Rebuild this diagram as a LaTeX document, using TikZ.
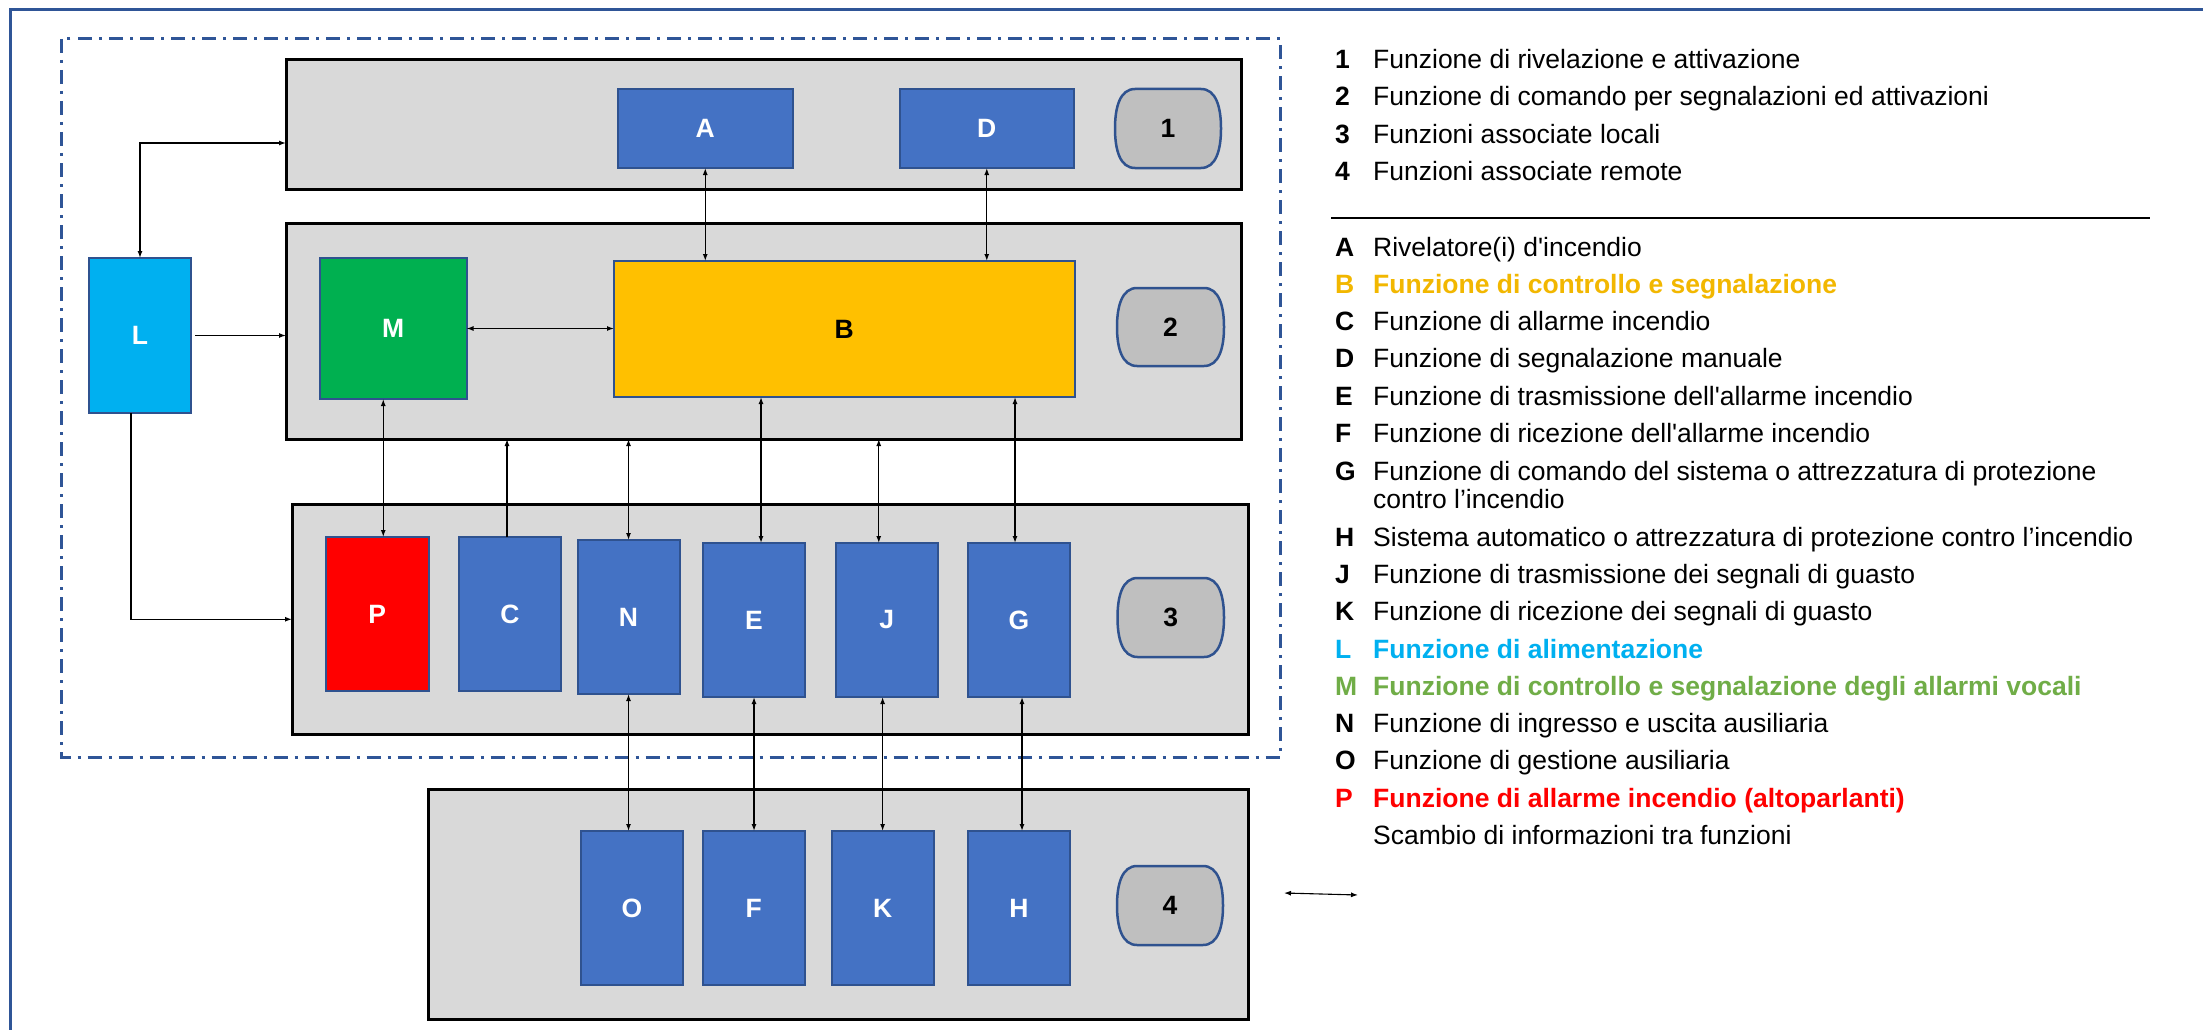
\documentclass[tikz,border=0pt]{standalone}
\usepackage{fontspec}
\setmainfont{Liberation Sans}[Ligatures=TeXOff]
\usetikzlibrary{arrows.meta,calc}
\definecolor{frameblue}{HTML}{2F5597}
\definecolor{boxblue}{HTML}{4472C4}
\definecolor{boxedge}{HTML}{2F528F}
\definecolor{contgray}{HTML}{D9D9D9}
\definecolor{pillgray}{HTML}{BFBFBF}
\definecolor{byellow}{HTML}{FFC000}
\definecolor{mgreen}{HTML}{00B050}
\definecolor{lcyan}{HTML}{00B0F0}
\definecolor{pred}{HTML}{FF0000}
\definecolor{legyellow}{HTML}{F2B700}
\definecolor{legcyan}{HTML}{00B0F0}
\definecolor{leggreen}{HTML}{70AD47}
\newcommand{\pillpath}[1]{%
  \path[draw=boxedge, fill=pillgray, line width=2.5pt]
    let \p1=(#1.north west), \p2=(#1.south east), \n1={(\y1+\y2)/2} in
    (\x1+20pt,\y1) -- (\x2-20pt,\y1)
    .. controls (\x2-5pt,\y1) and (\x2,\y1-18pt) .. (\x2,\n1)
    .. controls (\x2,\y2+18pt) and (\x2-5pt,\y2) .. (\x2-20pt,\y2)
    -- (\x1+20pt,\y2)
    .. controls (\x1+5pt,\y2) and (\x1,\y2+18pt) .. (\x1,\n1)
    .. controls (\x1,\y1-18pt) and (\x1+5pt,\y1) .. (\x1+20pt,\y1) -- cycle;}
\tikzset{
  container/.style={draw=black, fill=contgray, line width=3pt, inner sep=0pt, outer sep=0pt},
  fbox/.style={draw=boxedge, fill=boxblue, line width=2pt, inner sep=0pt, outer sep=0pt,
     text=white, font=\bfseries\fontsize{26.5}{30}\selectfont},
  pillbox/.style={inner sep=0pt, outer sep=0pt, minimum width=106pt, minimum height=79pt},
  pilltext/.style={inner sep=0pt, font=\bfseries\fontsize{26.5}{30}\selectfont},
  arr/.style={-{Latex[length=7pt,width=5pt]}, line width=1.3pt},
  dbl/.style={{Latex[length=7pt,width=5pt]}-{Latex[length=7pt,width=5pt]}, line width=1.3pt},
  legkey/.style={anchor=base west, inner sep=0pt, font=\bfseries\fontsize{26.5}{30}\selectfont},
  legtxt/.style={anchor=base west, inner sep=0pt, font=\fontsize{26.5}{30}\selectfont, align=left},
}
\begin{document}
\begin{tikzpicture}[x=1pt,y=-1pt]
\useasboundingbox (0,0) rectangle (2203,1030);
\fill[white] (0,0) rectangle (2203,1030);
% outer frame (only top and left visible)
\draw[frameblue, line width=3pt] (2203,9.5) -- (10.5,9.5) -- (10.5,1030);
% dash-dot region
\draw[frameblue, line width=3pt, dash pattern=on 14pt off 7pt on 3pt off 7pt]
  (61.5,39) rectangle (1280.5,757);

% containers
\node[container, minimum width=955.5pt, minimum height=129pt] (box1) at (763.75,124.5) {};
\node[container, minimum width=955.5pt, minimum height=216pt] (box2) at (763.75,331) {};
\node[container, minimum width=956.5pt, minimum height=230.5pt] (box3) at (770.25,619.25) {};
\node[container, minimum width=820.5pt, minimum height=230pt] (box4) at (838.25,904) {};

% level 1
\node[fbox, minimum width=174.5pt, minimum height=79pt] (A) at (705.25,128.5) {A};
\node[fbox, minimum width=174.5pt, minimum height=79pt] (D) at (986.75,128.5) {D};
\node[pillbox] (p1) at (1168,128.5) {};
\pillpath{p1}
\node[pilltext] (p1t) at (p1.center) {1};

% L
\node[fbox, fill=lcyan, minimum width=102pt, minimum height=155pt] (L) at (140,335.5) {L};

% level 2
\node[fbox, fill=mgreen, minimum width=146.5pt, minimum height=141pt] (M) at (393.25,328.5) {M};
\node[fbox, fill=byellow, text=black, minimum width=460.5pt, minimum height=136pt] (B) at (844.25,329) {B};
\node[pillbox, minimum width=107pt, minimum height=78pt] (p2) at (1170.5,327) {};
\pillpath{p2}
\node[pilltext] (p2t) at (p2.center) {2};

% level 3
\node[fbox, fill=pred, minimum width=102.5pt, minimum height=154pt] (P) at (377.25,614) {P};
\node[fbox, minimum width=102pt, minimum height=154pt] (C) at (510,614) {C};
\node[fbox, minimum width=102pt, minimum height=154pt] (N) at (628.5,617) {N};
\node[fbox, minimum width=102pt, minimum height=154pt] (E) at (754,620) {E};
\node[fbox, minimum width=101.5pt, minimum height=154pt] (J) at (886.75,620) {J};
\node[fbox, minimum width=102pt, minimum height=154pt] (G) at (1019,620) {G};
\node[pillbox, minimum width=106.5pt] (p3) at (1170.75,617.5) {};
\pillpath{p3}
\node[pilltext] (p3t) at (p3.center) {3};

% level 4
\node[fbox, minimum width=102.3pt, minimum height=154pt] (O) at (631.85,908) {O};
\node[fbox, minimum width=101.6pt, minimum height=154pt] (F) at (753.8,908) {F};
\node[fbox, minimum width=102.2pt, minimum height=154pt] (K) at (882.6,908) {K};
\node[fbox, minimum width=102pt, minimum height=154pt] (H) at (1019,908) {H};
\node[pillbox] (p4) at (1170,905.5) {};
\pillpath{p4}
\node[pilltext] (p4t) at (p4.center) {4};

% connectors
\draw[dbl] (L.north) |- ([yshift=-18.5pt]box1.west);
\draw[arr, shorten <=4pt] (L.east) -- (L.east -| box2.west);
\draw[dbl] (M.east) -- (M.east -| B.west);
\draw[dbl] (A.south) -- (A.south |- B.north);
\draw[dbl] (D.south) -- (D.south |- B.north);
\draw[dbl] ([xshift=-10pt]M.south) -- ([xshift=-10pt]M.south |- P.north);
\draw[arr] ([xshift=-3pt]C.north) -- ([xshift=-3pt]C.north |- box2.south);
\draw[dbl] (N.north) -- (N.north |- box2.south);
\draw[dbl] ([xshift=7pt]E.north) -- ([xshift=7pt]E.north |- B.south);
\draw[dbl] ([xshift=-8pt]J.north) -- ([xshift=-8pt]J.north |- box2.south);
\draw[dbl] ([xshift=-4pt]G.north) -- ([xshift=-4pt]G.north |- B.south);
\draw[arr] ([xshift=-9pt]L.south) |- (box3.west);
\draw[dbl] (N.south) -- (N.south |- O.north);
\draw[dbl] (E.south) -- (E.south |- F.north);
\draw[dbl] (J.south -| K.north) -- (K.north);
\draw[dbl] ([xshift=3pt]G.south) -- ([xshift=3pt]G.south |- H.north);

% legend
\node[legkey] (k1) at (1335,68.5) {1};
\node[legtxt] (t1) at (1373,68.5) {Funzione di rivelazione e attivazione};
\node[legkey] (k2) at (1335,106) {2};
\node[legtxt] (t2) at (1373,106) {Funzione di comando per segnalazioni ed attivazioni};
\node[legkey] (k3) at (1335,143) {3};
\node[legtxt] (t3) at (1373,143) {Funzioni associate locali};
\node[legkey] (k4) at (1335,180.5) {4};
\node[legtxt] (t4) at (1373,180.5) {Funzioni associate remote};
\coordinate (s1) at (1331,218);
\coordinate (s2) at (2150,218);
\draw[line width=1.5pt] (s1) -- (s2);

\node[legkey] (kA) at (1335,256.5) {A};
\node[legtxt] (tA) at (1373,256.5) {Rivelatore(i) d'incendio};
\node[legkey, text=legyellow] (kB) at (1335,293) {B};
\node[legtxt, text=legyellow, font=\bfseries\fontsize{26.5}{30}\selectfont] (tB) at (1373,293) {Funzione di controllo e segnalazione};
\node[legkey] (kC) at (1335,330.5) {C};
\node[legtxt] (tC) at (1373,330.5) {Funzione di allarme incendio};
\node[legkey] (kD) at (1335,367.5) {D};
\node[legtxt] (tD) at (1373,367.5) {Funzione di segnalazione manuale};
\node[legkey] (kE) at (1335,405) {E};
\node[legtxt] (tE) at (1373,405) {Funzione di trasmissione dell'allarme incendio};
\node[legkey] (kF) at (1335,442.5) {F};
\node[legtxt] (tF) at (1373,442.5) {Funzione di ricezione dell'allarme incendio};
\node[legkey] (kG) at (1335,480.5) {G};
\node[legtxt] (tG) at (1373,480.5) {Funzione di comando del sistema o attrezzatura di protezione};
\node[legtxt] (tG2) at (1373,508.5) {contro l’incendio};
\node[legkey] (kH) at (1335,546.5) {H};
\node[legtxt] (tH) at (1373,546.5) {Sistema automatico o attrezzatura di protezione contro l’incendio};
\node[legkey] (kJ) at (1335,583.5) {J};
\node[legtxt] (tJ) at (1373,583.5) {Funzione di trasmissione dei segnali di guasto};
\node[legkey] (kK) at (1335,620.5) {K};
\node[legtxt] (tK) at (1373,620.5) {Funzione di ricezione dei segnali di guasto};
\node[legkey, text=legcyan] (kL) at (1335,658.5) {L};
\node[legtxt, text=legcyan, font=\bfseries\fontsize{26.5}{30}\selectfont] (tL) at (1373,658.5) {Funzione di alimentazione};
\node[legkey, text=leggreen] (kM) at (1335,695.5) {M};
\node[legtxt, text=leggreen, font=\bfseries\fontsize{26.5}{30}\selectfont] (tM) at (1373,695.5) {Funzione di controllo e segnalazione degli allarmi vocali};
\node[legkey] (kN) at (1335,732.5) {N};
\node[legtxt] (tN) at (1373,732.5) {Funzione di ingresso e uscita ausiliaria};
\node[legkey] (kO) at (1335,769.5) {O};
\node[legtxt] (tO) at (1373,769.5) {Funzione di gestione ausiliaria};
\node[legkey, text=pred] (kP) at (1335,807.5) {P};
\node[legtxt, text=pred, font=\bfseries\fontsize{26.5}{30}\selectfont] (tP) at (1373,807.5) {Funzione di allarme incendio (altoparlanti)};
\node[legtxt] (tX) at (1373,844.5) {Scambio di informazioni tra funzioni};
\coordinate (x1) at (1284,893);
\coordinate (x2) at (1358,895);
\draw[dbl, line width=1.1pt] (x1) -- (x2);
\end{tikzpicture}
\end{document}
